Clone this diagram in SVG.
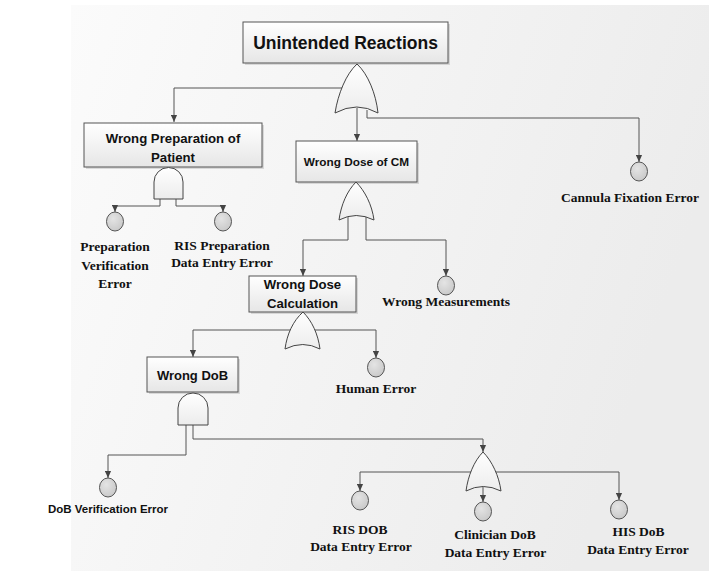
<svg xmlns="http://www.w3.org/2000/svg" width="709" height="571" viewBox="0 0 709 571">
  <defs>
    <linearGradient id="bg" x1="0" y1="0" x2="1" y2="0.3">
      <stop offset="0" stop-color="#fbfbfb"/>
      <stop offset="1" stop-color="#ececec"/>
    </linearGradient>
    <linearGradient id="boxFill" x1="0" y1="0" x2="0" y2="1">
      <stop offset="0" stop-color="#ffffff"/>
      <stop offset="1" stop-color="#e6e6e6"/>
    </linearGradient>
    <linearGradient id="gateFill" x1="0" y1="0" x2="0" y2="1">
      <stop offset="0" stop-color="#ffffff"/>
      <stop offset="1" stop-color="#ececec"/>
    </linearGradient>
    <radialGradient id="eventFill" cx="0.4" cy="0.35" r="0.7">
      <stop offset="0" stop-color="#e4e4e4"/>
      <stop offset="1" stop-color="#c8c8c8"/>
    </radialGradient>
    <marker id="arrow" viewBox="0 0 8 8" refX="8" refY="4" markerWidth="7" markerHeight="7" markerUnits="userSpaceOnUse" orient="auto">
      <path d="M0,0.5 L8,4 L0,7.5 Z" fill="#444"/>
    </marker>
  </defs>
  <style>
    .conn { fill: none; stroke: #555; stroke-width: 1; }
    .arr { marker-end: url(#arrow); }
    .box { fill: url(#boxFill); stroke: #555; stroke-width: 1; }
    .shadow { fill: #000; opacity: 0.12; }
    .gate { fill: url(#gateFill); stroke: #444; stroke-width: 1; }
    .event { fill: url(#eventFill); stroke: #555; stroke-width: 1; }
    .lbl { font-family: "Liberation Sans", Arial, sans-serif; font-weight: bold; fill: #111; text-anchor: middle; }
    .ev { font-family: "Liberation Serif", "Times New Roman", serif; font-weight: bold; font-size: 13.5px; fill: #111; text-anchor: middle; }
  </style>

  <!-- background panel -->
  <rect x="0" y="0" width="709" height="571" fill="#ffffff"/>
  <rect x="71" y="5" width="638" height="566" fill="url(#bg)"/>

  <!-- connectors -->
  <g id="connectors">
    <polyline class="conn arr" points="345,88 174,88 174,122"/>
    <polyline class="conn arr" points="357,108 357,141"/>
    <polyline class="conn arr" points="367,110 367,118 639,118 639,162"/>

    <polyline class="conn arr" points="160,199 160,206 115,206 115,212"/>
    <polyline class="conn arr" points="176,199 176,206 223,206 223,212"/>

    <polyline class="conn arr" points="348,216 348,240 303,240 303,276"/>
    <polyline class="conn arr" points="366,216 366,240 446,240 446,276"/>

    <polyline class="conn arr" points="303,330 193,330 193,357"/>
    <polyline class="conn arr" points="303,330 376,330 376,358"/>

    <polyline class="conn arr" points="186,425 186,455 108,455 108,478"/>
    <polyline class="conn arr" points="193,425 193,439 483,439 483,452"/>

    <polyline class="conn" points="360,472 619,472"/>
    <polyline class="conn arr" points="360,472 360,491"/>
    <polyline class="conn arr" points="619,472 619,500"/>
    <polyline class="conn arr" points="483,487 483,502"/>
  </g>

  <!-- top event -->
  <g id="unintended-reactions">
    <rect class="shadow" x="245" y="24" width="205" height="41"/>
    <rect class="box" x="243" y="22" width="205" height="41"/>
    <text class="lbl" x="345.5" y="49" font-size="17.5">Unintended Reactions</text>
  </g>
  <g id="gate-top-or">
    <path class="gate" d="M357,64 C368,74 376,94 378,113 Q357,101 335,113 C338,94 346,74 357,64 Z"/>
  </g>

  <!-- wrong preparation branch -->
  <g id="wrong-preparation">
    <rect class="shadow" x="86" y="125" width="178" height="44"/>
    <rect class="box" x="84" y="123" width="178" height="44"/>
    <text class="lbl" x="173" y="143" font-size="13.2">Wrong Preparation of</text>
    <text class="lbl" x="173" y="162" font-size="13.2">Patient</text>
  </g>
  <g id="gate-prep-and">
    <path class="gate" d="M154,199 L154,182 A14.5,14.5 0 0 1 183,182 L183,199 Z"/>
  </g>
  <g id="prep-verification-error">
    <ellipse class="event" cx="115" cy="221.5" rx="8.5" ry="9.5"/>
    <text class="ev" x="115" y="251">Preparation</text>
    <text class="ev" x="115" y="270">Verification</text>
    <text class="ev" x="115" y="288">Error</text>
  </g>
  <g id="ris-prep-error">
    <ellipse class="event" cx="223" cy="221.5" rx="8.5" ry="9.5"/>
    <text class="ev" x="222" y="250">RIS Preparation</text>
    <text class="ev" x="222" y="267">Data Entry Error</text>
  </g>

  <!-- wrong dose branch -->
  <g id="wrong-dose-cm">
    <rect class="shadow" x="298" y="143" width="121" height="41"/>
    <rect class="box" x="296" y="141" width="121" height="41"/>
    <text class="lbl" x="356.5" y="166" font-size="11.8">Wrong Dose of CM</text>
  </g>
  <g id="gate-dose-or">
    <path class="gate" d="M356,182 C365,191 372,205 374,220 Q356,211 339,220 C341,205 347,191 356,182 Z"/>
  </g>
  <g id="wrong-measurements">
    <ellipse class="event" cx="446" cy="285.5" rx="8.5" ry="9.5"/>
    <text class="ev" x="446" y="306">Wrong Measurements</text>
  </g>

  <g id="wrong-dose-calculation">
    <rect class="shadow" x="251" y="278" width="107" height="36"/>
    <rect class="box" x="249" y="276" width="107" height="36"/>
    <text class="lbl" x="302.5" y="289" font-size="13.2">Wrong Dose</text>
    <text class="lbl" x="302.5" y="308" font-size="13.2">Calculation</text>
  </g>
  <g id="gate-calc-or">
    <path class="gate" d="M303,312 C312,321 318,334 320,349 Q303,340 285,349 C287,334 293,321 303,312 Z"/>
  </g>
  <g id="human-error">
    <ellipse class="event" cx="376" cy="367.5" rx="8.5" ry="9.5"/>
    <text class="ev" x="376" y="393">Human Error</text>
  </g>

  <!-- wrong DoB branch -->
  <g id="wrong-dob">
    <rect class="shadow" x="149" y="359" width="91" height="35"/>
    <rect class="box" x="147" y="357" width="91" height="35"/>
    <text class="lbl" x="192.5" y="380" font-size="13">Wrong DoB</text>
  </g>
  <g id="gate-dob-and">
    <path class="gate" d="M178,425 L178,408 A15,15 0 0 1 208,408 L208,425 Z"/>
  </g>
  <g id="dob-verification-error">
    <ellipse class="event" cx="108" cy="487.5" rx="8.5" ry="9.5"/>
    <text class="lbl" x="108" y="513" font-size="11.5">DoB Verification Error</text>
  </g>

  <g id="gate-dob-entry-or">
    <path class="gate" d="M483,452 C492,461 499,476 501,491 Q483,482 466,491 C468,476 474,461 483,452 Z"/>
  </g>
  <g id="ris-dob-error">
    <ellipse class="event" cx="360" cy="500.5" rx="8.5" ry="9.5"/>
    <text class="ev" x="360" y="534">RIS DOB</text>
    <text class="ev" x="361" y="551">Data Entry Error</text>
  </g>
  <g id="clinician-dob-error">
    <ellipse class="event" cx="483" cy="511.5" rx="8.5" ry="9.5"/>
    <text class="ev" x="495" y="539">Clinician DoB</text>
    <text class="ev" x="495.5" y="557">Data Entry Error</text>
  </g>
  <g id="his-dob-error">
    <ellipse class="event" cx="619" cy="509.5" rx="8.5" ry="9.5"/>
    <text class="ev" x="638.5" y="536">HIS DoB</text>
    <text class="ev" x="638" y="554">Data Entry Error</text>
  </g>

  <!-- cannula branch -->
  <g id="cannula-fixation-error">
    <ellipse class="event" cx="639" cy="171.5" rx="8.5" ry="9.5"/>
    <text class="ev" x="630" y="202">Cannula Fixation Error</text>
  </g>
</svg>
